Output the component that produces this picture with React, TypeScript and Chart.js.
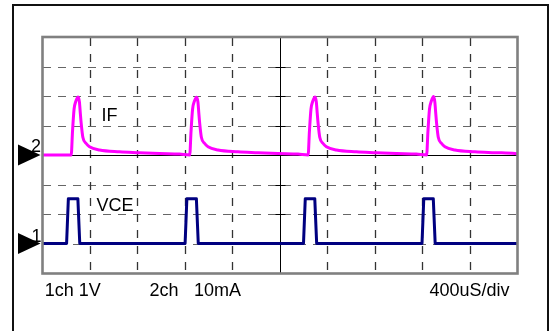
import React, { useEffect, useRef } from "react";
import { Chart, registerables } from "chart.js";

Chart.register(...registerables);

// Scope settings (horizontal: microseconds, vertical: graticule divisions)
const timeMinUs = 0;
const timeMaxUs = 4000;
const usPerDiv = 400;
const levelMin = 0;
const levelMax = 8;
const ch1RefLevel = 1; // VCE ground marker "1"
const ch2RefLevel = 4; // IF ground marker "2"

// Channel 1: VCE (in divisions, 1V/div)
const vceTime = [0, 207, 222, 302, 318, 1205, 1220, 1300, 1316, 2202, 2217, 2297, 2313, 3200, 3215, 3295, 3311, 4000];
const vceLevel = [1, 1, 2.52, 2.52, 1, 1, 2.52, 2.52, 1, 1, 2.52, 2.52, 1, 1, 2.52, 2.52, 1, 1];

// Channel 2: IF (in divisions, 10mA/div)
const ifTime = [
  0,
  246, 257, 270, 285, 305, 315, 323, 330, 344, 372, 400, 484, 653, 821, 990, 1158,
  1244, 1255, 1268, 1283, 1303, 1313, 1321, 1328, 1342, 1370, 1398, 1482, 1651, 1819, 1988, 2156,
  2241, 2252, 2265, 2280, 2300, 2310, 2318, 2325, 2339, 2367, 2395, 2479, 2648, 2816, 2985, 3153,
  3239, 3250, 3263, 3278, 3298, 3308, 3316, 3323, 3337, 3365, 3393, 3477, 3646, 3814, 3983, 4000,
];
const ifLevel = [
  4.0,
  4.0, 4.8, 5.55, 5.82, 5.97, 5.8, 5.4, 5.07, 4.6, 4.39, 4.28, 4.17, 4.11, 4.08, 4.05, 4.03,
  4.0, 4.8, 5.55, 5.82, 5.96, 5.8, 5.4, 5.07, 4.6, 4.39, 4.28, 4.17, 4.11, 4.08, 4.05, 4.03,
  4.0, 4.8, 5.55, 5.82, 5.97, 5.8, 5.4, 5.07, 4.6, 4.39, 4.28, 4.17, 4.11, 4.08, 4.05, 4.03,
  4.0, 4.8, 5.55, 5.82, 5.98, 5.8, 5.4, 5.07, 4.6, 4.39, 4.28, 4.17, 4.11, 4.08, 4.05, 4.04,
];

const traceLabels = ["IF", "VCE"];
const markerLabels = ["2", "1"];
const scaleLabels = ["1ch 1V", "2ch", "10mA", "400uS/div"];

const FONT = '"Liberation Sans", Arial, sans-serif';
const FS = 18;

const scopePlugin = {
  id: "scope",
  beforeDatasetsDraw(chart: any) {
    const { ctx, chartArea: a, scales } = chart;
    const xs = scales.x;
    const ys = scales.y;
    ctx.save();
    // outer frame
    ctx.strokeStyle = "#111";
    ctx.lineWidth = 2;
    ctx.setLineDash([]);
    ctx.strokeRect(13, 5, 535, 400);

    // horizontal dashed graticule
    ctx.strokeStyle = "#666";
    ctx.lineWidth = 1;
    ctx.setLineDash([8, 7]);
    for (let j = levelMin + 1; j < levelMax; j++) {
      if (j === (levelMin + levelMax) / 2) continue;
      const y = Math.round(ys.getPixelForValue(j)) + 0.5;
      ctx.beginPath();
      ctx.moveTo(a.left + 1, y);
      ctx.lineTo(a.right, y);
      ctx.stroke();
    }
    // vertical dashed graticule
    ctx.strokeStyle = "#333";
    ctx.lineWidth = 1.3;
    ctx.setLineDash([8, 8]);
    const nx = (timeMaxUs - timeMinUs) / usPerDiv;
    for (let i = 1; i < nx; i++) {
      if (i === nx / 2) continue;
      const x = Math.round(xs.getPixelForValue(timeMinUs + i * usPerDiv)) + 0.5;
      ctx.beginPath();
      ctx.moveTo(x, a.top + 1);
      ctx.lineTo(x, a.bottom);
      ctx.stroke();
    }
    // center lines
    ctx.setLineDash([]);
    ctx.lineWidth = 1;
    ctx.strokeStyle = "#000";
    const cx = Math.round(xs.getPixelForValue((timeMinUs + timeMaxUs) / 2)) + 0.5;
    const cy = Math.round(ys.getPixelForValue((levelMin + levelMax) / 2)) + 0.5;
    ctx.beginPath();
    ctx.moveTo(cx, a.top);
    ctx.lineTo(cx, a.bottom);
    ctx.moveTo(a.left, cy);
    ctx.lineTo(a.right, cy);
    ctx.stroke();
    // ticks on center vertical line
    for (let j = levelMin; j <= levelMax; j++) {
      const y = Math.round(ys.getPixelForValue(j)) + 0.5;
      ctx.beginPath();
      ctx.moveTo(cx - 5, y);
      ctx.lineTo(cx + 5, y);
      ctx.stroke();
    }
    ctx.restore();
  },
  afterDatasetsDraw(chart: any) {
    const { ctx, chartArea: a, scales } = chart;
    ctx.save();
    ctx.strokeStyle = "#808080";
    ctx.lineWidth = 2.6;
    ctx.strokeRect(a.left + 0.5, a.top, a.right - a.left, a.bottom - a.top + 0.5);
    // reference markers
    ctx.fillStyle = "#000";
    [ch2RefLevel, ch1RefLevel].forEach((lv) => {
      const y = scales.y.getPixelForValue(lv);
      ctx.beginPath();
      ctx.moveTo(18, y - 10.5);
      ctx.lineTo(40.5, y);
      ctx.lineTo(18, y + 10.5);
      ctx.closePath();
      ctx.fill();
    });
    ctx.restore();
  },
};

function Label({ text, x, baseline }: { text: string; x: number; baseline: number }) {
  return (
    <span
      style={{
        position: "absolute",
        left: x,
        top: baseline - 0.846 * FS,
        fontFamily: FONT,
        fontSize: FS,
        lineHeight: `${FS}px`,
        color: "#000",
        whiteSpace: "pre",
      }}
    >
      {text}
    </span>
  );
}

export default function App() {
  const ref = useRef<HTMLCanvasElement>(null);
  useEffect(() => {
    const chart = new Chart(ref.current!, {
      type: "line",
      data: {
        datasets: [
          {
            label: "IF",
            data: ifTime.map((t, i) => ({ x: t, y: ifLevel[i] })),
            borderColor: "#ff00ff",
            borderWidth: 3,
            pointRadius: 0,
            cubicInterpolationMode: "monotone",
            fill: false,
          },
          {
            label: "VCE",
            data: vceTime.map((t, i) => ({ x: t, y: vceLevel[i] })),
            borderColor: "#000080",
            borderWidth: 3,
            pointRadius: 0,
            tension: 0,
            borderJoinStyle: "round",
            fill: false,
          },
        ],
      },
      options: {
        responsive: false,
        maintainAspectRatio: false,
        devicePixelRatio: 1,
        animation: false,
        layout: { padding: { left: 42, top: 37, right: 38, bottom: 58 } },
        plugins: { legend: { display: false }, tooltip: { enabled: false } },
        scales: {
          x: { type: "linear", min: timeMinUs, max: timeMaxUs, display: false },
          y: { type: "linear", min: levelMin, max: levelMax, display: false },
        },
      },
      plugins: [scopePlugin],
    } as any);
    return () => chart.destroy();
  }, []);

  return (
    <div
      style={{
        position: "absolute",
        left: 0,
        top: 0,
        width: 555,
        height: 331,
        background: "#fff",
        overflow: "hidden",
      }}
    >
      <canvas
        ref={ref}
        width={555}
        height={331}
        style={{ position: "absolute", left: 0, top: 0, width: 555, height: 331 }}
      />
      <Label text={traceLabels[0]} x={101.5} baseline={121} />
      <Label text={traceLabels[1]} x={96.5} baseline={211} />
      <Label text={markerLabels[0]} x={31} baseline={152} />
      <Label text={markerLabels[1]} x={31.5} baseline={242} />
      <Label text={scaleLabels[0]} x={44.8} baseline={296.5} />
      <Label text={scaleLabels[1]} x={149.5} baseline={296.5} />
      <Label text={scaleLabels[2]} x={194} baseline={296.5} />
      <Label text={scaleLabels[3]} x={429.5} baseline={296} />
    </div>
  );
}
